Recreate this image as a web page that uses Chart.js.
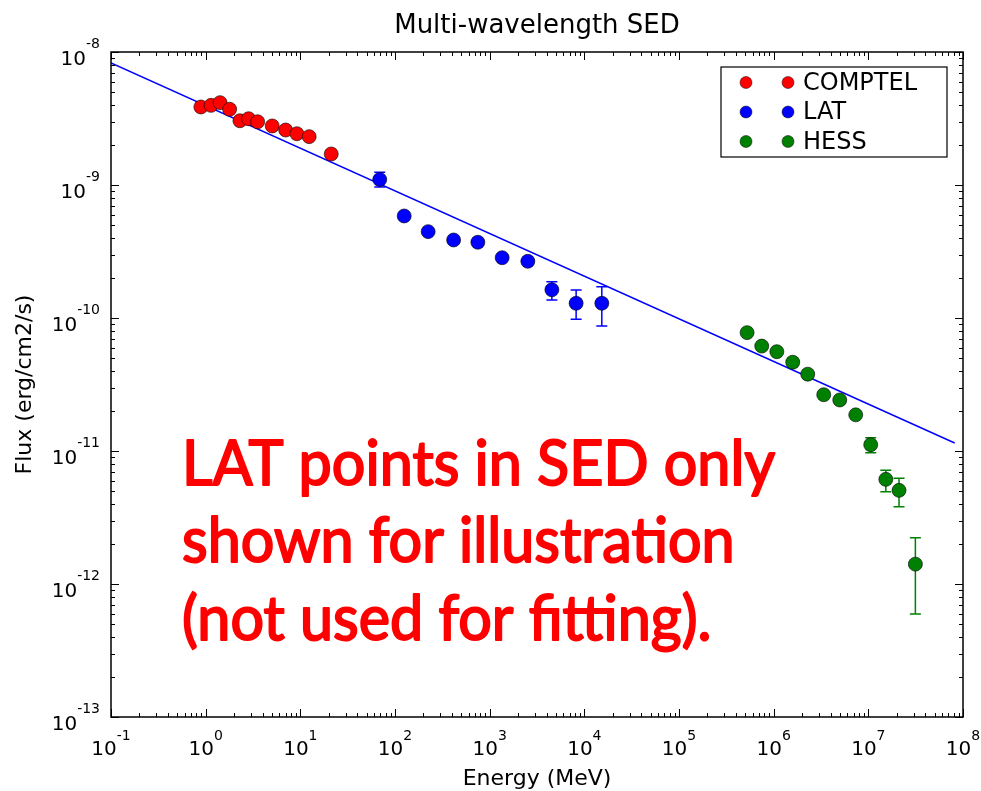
<!DOCTYPE html>
<html lang="en">
<head>
  <meta charset="UTF-8">
  <title>Multi-wavelength SED</title>
  <script src="https://cdn.jsdelivr.net/npm/chart.js"></script>
  <style>
    body { margin: 0; background: #fff; }
  </style>
</head>
<body>
<canvas id="chart" width="981" height="791"></canvas>

<script>
    // COMPTEL points (MeV, erg/cm2/s)
    const compE = [0.89, 1.14, 1.42, 1.79, 2.30, 2.84, 3.54, 5.05, 7.0, 9.2, 12.4, 21.2];
    const compF = [3.86e-9, 3.97e-9, 4.16e-9, 3.71e-9, 3.04e-9, 3.15e-9, 2.99e-9, 2.78e-9, 2.59e-9, 2.43e-9, 2.31e-9, 1.71e-9];

    // LAT points
    const latE = [69, 125, 224, 416, 750, 1355, 2530, 4540, 8190, 15300];
    const latF = [1.10e-9, 5.85e-10, 4.46e-10, 3.86e-10, 3.71e-10, 2.84e-10, 2.67e-10, 1.63e-10, 1.29e-10, 1.29e-10];
    const latLo = [9.66e-10, null, null, null, null, null, null, 1.365e-10, 9.78e-11, 8.71e-11];
    const latHi = [1.245e-9, null, null, null, null, null, null, 1.875e-10, 1.625e-10, 1.72e-10];

    // HESS points
    const hessE = [5.24e5, 7.48e5, 1.08e6, 1.59e6, 2.29e6, 3.38e6, 4.99e6, 7.36e6, 1.06e7, 1.53e7, 2.11e7, 3.14e7];
    const hessF = [7.76e-11, 6.15e-11, 5.58e-11, 4.65e-11, 3.78e-11, 2.65e-11, 2.42e-11, 1.87e-11, 1.115e-11, 6.12e-12, 5.06e-12, 1.41e-12];
    const hessLo = [null, null, null, null, null, null, null, null, 9.71e-12, 4.94e-12, 3.81e-12, 5.95e-13];
    const hessHi = [null, null, null, null, null, null, null, null, 1.26e-11, 7.16e-12, 6.24e-12, 2.23e-12];

    // power-law fit, end points
    const fitE = [0.1, 8.17e7];
    const fitF = [8.27e-9, 1.148e-11];

    const xMin = 1e-1, xMax = 1e8;
    const yMin = 1e-13, yMax = 1e-8;

    const titleText = 'Multi-wavelength SED';
    const xTitle = 'Energy (MeV)';
    const yTitle = 'Flux (erg/cm2/s)';
    const noteLines = ['LAT points in SED only', 'shown for illustration', '(not used for fitting).'];

    const pts = (xs, ys) => xs.map((x, i) => ({x: x, y: ys[i]}));

    function powLabel(ctx, k, x, y, mode) {
        ctx.font = '20px "DejaVu Sans"';
        const w1 = ctx.measureText('10').width;
        ctx.font = '14px "DejaVu Sans"';
        const w2 = ctx.measureText(String(k)).width;
        let x0, yb, ys;
        if (mode === 'x') { x0 = x - (w1 + w2) / 2; yb = y + 38; ys = y + 23; }
        else { x0 = x - 11 - (w1 + w2); yb = y + 13; ys = y - 4; }
        ctx.textAlign = 'left';
        ctx.textBaseline = 'alphabetic';
        ctx.font = '20px "DejaVu Sans"';
        ctx.fillText('10', x0, yb);
        ctx.font = '14px "DejaVu Sans"';
        ctx.fillText(String(k), x0 + w1, ys);
    }

    const sedPlugin = {
        id: 'sedDecor',
        beforeDatasetsDraw(chart) {
            const ctx = chart.ctx, xs = chart.scales.x, ys = chart.scales.y;
            ctx.save();
            chart.data.datasets.forEach(ds => {
                if (!ds.errLo) return;
                ctx.strokeStyle = ds.backgroundColor;
                ctx.lineWidth = 1.5;
                ds.data.forEach((p, i) => {
                    if (ds.errLo[i] == null) return;
                    const px = xs.getPixelForValue(p.x);
                    const lo = ys.getPixelForValue(ds.errLo[i]);
                    const hi = ys.getPixelForValue(ds.errHi[i]);
                    ctx.beginPath();
                    ctx.moveTo(px, lo); ctx.lineTo(px, hi);
                    ctx.moveTo(px - 5.5, lo); ctx.lineTo(px + 5.5, lo);
                    ctx.moveTo(px - 5.5, hi); ctx.lineTo(px + 5.5, hi);
                    ctx.stroke();
                });
            });
            ctx.restore();
        },
        afterDraw(chart) {
            const ctx = chart.ctx, a = chart.chartArea;
            const xs = chart.scales.x, ys = chart.scales.y;
            ctx.save();
            ctx.fillStyle = '#000';
            ctx.strokeStyle = '#000';

            // ticks, pointing inwards on all four sides
            ctx.lineWidth = 1;
            ctx.beginPath();
            for (let k = Math.log10(xMin); k <= Math.log10(xMax); k++) {
                for (let m = 1; m <= 9; m++) {
                    const v = m * Math.pow(10, k);
                    if (v > xMax * 1.0001) break;
                    const px = Math.round(xs.getPixelForValue(v)) + 0.5;
                    const len = m === 1 ? 8 : 4;
                    ctx.moveTo(px, a.bottom); ctx.lineTo(px, a.bottom - len);
                    ctx.moveTo(px, a.top); ctx.lineTo(px, a.top + len);
                }
            }
            for (let k = Math.log10(yMin); k <= Math.log10(yMax); k++) {
                for (let m = 1; m <= 9; m++) {
                    const v = m * Math.pow(10, k);
                    if (v > yMax * 1.0001) break;
                    const py = Math.round(ys.getPixelForValue(v)) + 0.5;
                    const len = m === 1 ? 8 : 4;
                    ctx.moveTo(a.left, py); ctx.lineTo(a.left + len, py);
                    ctx.moveTo(a.right, py); ctx.lineTo(a.right - len, py);
                }
            }
            ctx.stroke();

            // frame
            ctx.lineWidth = 1.5;
            ctx.strokeRect(a.left, a.top, a.right - a.left, a.bottom - a.top);

            // tick labels
            for (let k = Math.round(Math.log10(xMin)); k <= Math.round(Math.log10(xMax)); k++) {
                powLabel(ctx, k, xs.getPixelForValue(Math.pow(10, k)), a.bottom, 'x');
            }
            for (let k = Math.round(Math.log10(yMin)); k <= Math.round(Math.log10(yMax)); k++) {
                powLabel(ctx, k, a.left, ys.getPixelForValue(Math.pow(10, k)), 'y');
            }

            // titles
            const cx = (a.left + a.right) / 2;
            ctx.textAlign = 'center';
            ctx.textBaseline = 'alphabetic';
            ctx.font = '26px "DejaVu Sans"';
            ctx.fillText(titleText, cx, a.top - 19);
            ctx.font = '22px "DejaVu Sans"';
            ctx.fillText(xTitle, cx, a.bottom + 68);
            ctx.save();
            ctx.translate(31, (a.top + a.bottom) / 2);
            ctx.rotate(-Math.PI / 2);
            ctx.fillText(yTitle, 0, 0);
            ctx.restore();

            // legend box (two markers per entry)
            const sets = chart.data.datasets.filter(ds => ds.showInLegend);
            const bx = a.right - 242, by = a.top + 15, bw = 226, bh = 90;
            ctx.fillStyle = '#fff';
            ctx.fillRect(bx, by, bw, bh);
            ctx.lineWidth = 1.2;
            ctx.strokeStyle = '#000';
            ctx.strokeRect(bx, by, bw, bh);
            sets.forEach((ds, i) => {
                const ry = by + 15.5 + i * 29.5;
                [bx + 25, bx + 67].forEach(mx => {
                    ctx.beginPath();
                    ctx.arc(mx, ry, 6, 0, Math.PI * 2);
                    ctx.fillStyle = ds.backgroundColor;
                    ctx.fill();
                    ctx.lineWidth = 0.8;
                    ctx.strokeStyle = 'rgba(0,0,0,0.6)';
                    ctx.stroke();
                });
                ctx.fillStyle = '#000';
                ctx.textAlign = 'left';
                ctx.textBaseline = 'middle';
                ctx.font = '24px "DejaVu Sans"';
                ctx.fillText(ds.label, bx + 82, ry + 1);
            });

            // note: regular weight thickened a little to look like a medium face
            ctx.fillStyle = '#ff0000';
            ctx.strokeStyle = '#ff0000';
            ctx.lineWidth = 2;
            ctx.lineJoin = 'round';
            ctx.textAlign = 'left';
            ctx.textBaseline = 'alphabetic';
            ctx.font = '62px Lato';
            const sx = 593 / ctx.measureText(noteLines[0]).width;
            const baselines = [485, 562, 640];
            noteLines.forEach((t, i) => {
                ctx.save();
                ctx.translate(182, baselines[i]);
                ctx.scale(sx, 1);
                ctx.fillText(t, 0, 0);
                ctx.strokeText(t, 0, 0);
                ctx.restore();
            });
            ctx.restore();
        }
    };

    const marker = color => ({
        backgroundColor: color,
        borderColor: 'rgba(0,0,0,0.6)',
        borderWidth: 1,
        pointRadius: 7,
        pointHoverRadius: 7,
        showLine: false,
        showInLegend: true,
        order: 1
    });

    new Chart(document.getElementById('chart'), {
        type: 'scatter',
        data: {
            datasets: [
                Object.assign({label: 'COMPTEL', data: pts(compE, compF)}, marker('#ff0000')),
                Object.assign({label: 'LAT', data: pts(latE, latF), errLo: latLo, errHi: latHi}, marker('#0000ff')),
                Object.assign({label: 'HESS', data: pts(hessE, hessF), errLo: hessLo, errHi: hessHi}, marker('#008000')),
                {
                    label: 'Fit',
                    data: pts(fitE, fitF),
                    showLine: true,
                    borderColor: '#0000ff',
                    backgroundColor: '#0000ff',
                    borderWidth: 1.5,
                    pointRadius: 0,
                    order: 10
                }
            ]
        },
        options: {
            responsive: false,
            animation: false,
            layout: { padding: { left: 103, top: 52, right: 18, bottom: 66 } },
            plugins: {
                legend: { display: false },
                title: { display: false },
                tooltip: { enabled: false }
            },
            scales: {
                x: {
                    type: 'logarithmic', min: xMin, max: xMax,
                    grid: { display: false }, border: { display: false },
                    ticks: { display: false }
                },
                y: {
                    type: 'logarithmic', min: yMin, max: yMax,
                    grid: { display: false }, border: { display: false },
                    ticks: { display: false }
                }
            }
        },
        plugins: [sedPlugin]
    });
</script>
</body>
</html>
